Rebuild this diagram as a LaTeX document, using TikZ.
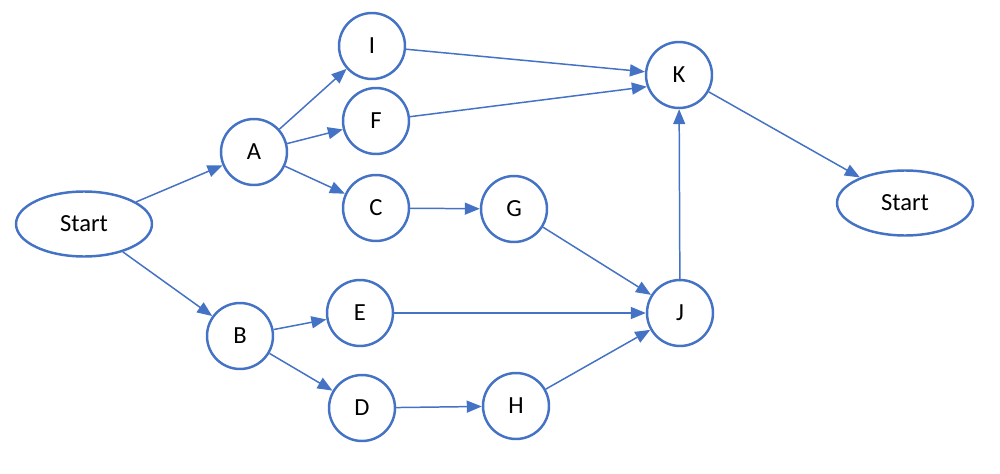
\documentclass[tikz,border=0pt]{standalone}
\usepackage{fontspec}
\setmainfont{Carlito}
\usepackage{tikz}
\usetikzlibrary{arrows.meta,shapes.geometric}
\definecolor{nodeblue}{HTML}{4472C4}
\tikzset{
    mynode/.style={circle,draw=nodeblue,line width=1.4pt,fill=white,inner sep=0pt,minimum size=1.32cm},
    myend/.style={ellipse,draw=nodeblue,line width=1.4pt,fill=white,inner sep=0pt,minimum width=2.72cm,minimum height=1.3cm},
    myedge/.style={draw=nodeblue,line width=0.85pt,-{Triangle[length=3mm,width=2.4mm]}},
    every node/.style={font=\fontsize{14}{16}\selectfont}
}
\begin{document}
\begin{tikzpicture}[x=0.02cm,y=-0.02cm]
  \useasboundingbox (0,0) rectangle (1000,473);
  % Knoten
  \node[myend] (S0) at (84,224) {Start};
  \node[myend] (S1) at (905,203) {Start};
  \node[mynode] (A) at (254,152) {A};
  \node[mynode] (B) at (240,336) {B};
  \node[mynode] (I) at (372,46) {I};
  \node[mynode] (F) at (376,121) {F};
  \node[mynode] (C) at (376,208) {C};
  \node[mynode] (G) at (514,209) {G};
  \node[mynode] (E) at (360,313) {E};
  \node[mynode] (D) at (362,408) {D};
  \node[mynode] (H) at (516,406) {H};
  \node[mynode] (J) at (680,313) {J};
  \node[mynode] (K) at (679,75) {K};
  % Kanten
  \foreach \u/\v in {S0/A,S0/B,A/I,A/F,A/C,C/G,G/J,I/K,B/E,B/D,E/J,D/H,H/J,J/K,K/S1}
    {\draw[myedge] (\u) -- (\v);}
  \draw[myedge] (F) -- (K.200);
\end{tikzpicture}
\end{document}
